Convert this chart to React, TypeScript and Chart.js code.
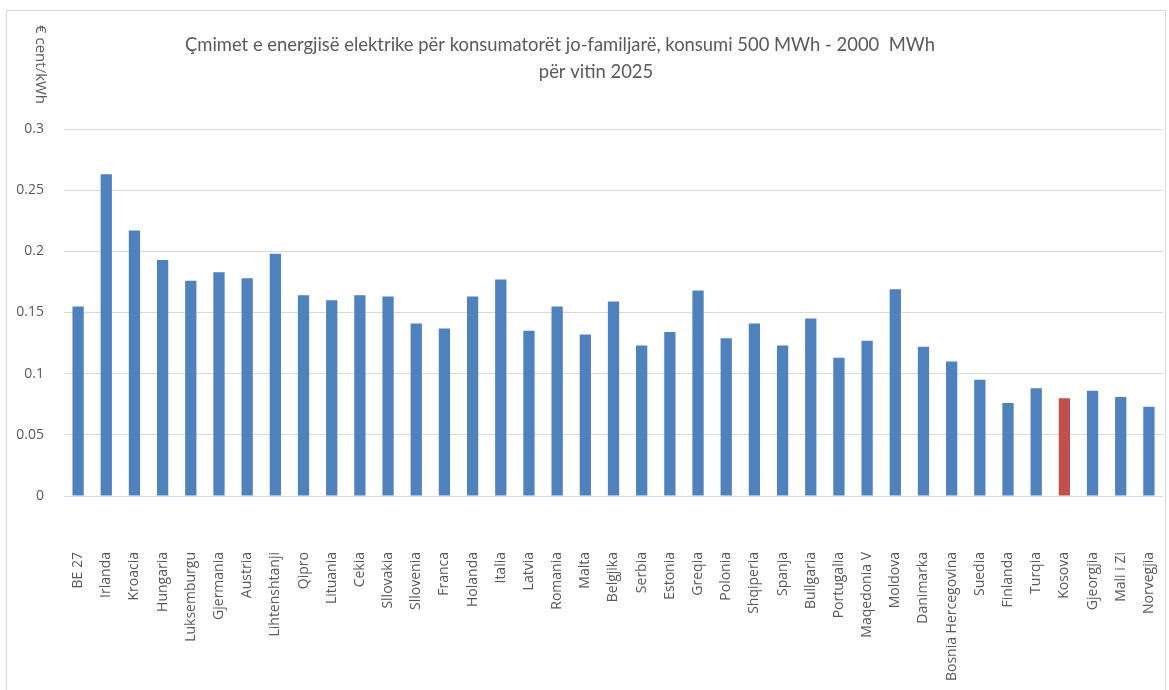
import React, { useEffect, useRef } from "react";
import { Chart, registerables } from "chart.js";

Chart.register(...registerables);

const categories: string[] = [
  "BE 27", "Irlanda", "Kroacia", "Hungaria", "Luksemburgu", "Gjermania", "Austria",
  "Lihtenshtanji", "Qipro", "Lituania", "Cekia", "Sllovakia", "Sllovenia", "Franca",
  "Holanda", "Italia", "Latvia", "Romania", "Malta", "Belgjika", "Serbia", "Estonia",
  "Greqia", "Polonia", "Shqiperia", "Spanja", "Bullgaria", "Portugalia", "Maqedonia V",
  "Moldova", "Danimarka", "Bosnia Hercegovina", "Suedia", "Finlanda", "Turqia", "Kosova",
  "Gjeorgjia", "Mali i Zi", "Norvegjia",
];

const prices: number[] = [
  0.155, 0.263, 0.217, 0.193, 0.176, 0.183, 0.178,
  0.198, 0.164, 0.160, 0.164, 0.163, 0.141, 0.137,
  0.163, 0.177, 0.135, 0.155, 0.132, 0.159, 0.123, 0.134,
  0.168, 0.129, 0.141, 0.123, 0.145, 0.113, 0.127,
  0.169, 0.122, 0.110, 0.095, 0.076, 0.088, 0.080,
  0.086, 0.081, 0.073,
];

const yTicks: number[] = [0, 0.05, 0.1, 0.15, 0.2, 0.25, 0.3];

const titleLines: string[] = [
  "Çmimet e energjisë elektrike për konsumatorët jo-familjarë, konsumi 500 MWh - 2000  MWh",
  "për vitin 2025",
];
const yAxisTitle = "€ cent/kWh";
const highlight = "Kosova";

const BLUE = "#4F81BD";
const RED = "#C0504D";
const TEXT = "#595959";

const textPlugin = {
  id: "customText",
  afterDraw(chart: any) {
    const ctx = chart.ctx;
    ctx.save();
    ctx.fillStyle = TEXT;
    ctx.textBaseline = "middle";
    ctx.textAlign = "center";
    ctx.font = "18.4px Lato, 'Open Sans', sans-serif";
    ctx.fillText(titleLines[0], 560, 45);
    ctx.fillText(titleLines[1], 596, 72);
    ctx.translate(40, 25);
    ctx.rotate(Math.PI / 2);
    ctx.textAlign = "left";
    ctx.font = "15px 'Open Sans', sans-serif";
    ctx.fillText(yAxisTitle, 0, 0);
    ctx.restore();
  },
};

export default function App() {
  const canvasRef = useRef<HTMLCanvasElement | null>(null);

  useEffect(() => {
    if (!canvasRef.current) return;
    const colors = categories.map((c) => (c === highlight ? RED : BLUE));
    const chart = new Chart(canvasRef.current, {
      type: "bar",
      data: {
        labels: categories,
        datasets: [
          {
            data: prices,
            backgroundColor: colors,
            borderWidth: 0,
            barPercentage: 0.4,
            categoryPercentage: 1,
          },
        ],
      },
      options: {
        responsive: false,
        animation: false,
        layout: { padding: { top: 129, right: 6, left: 0, bottom: 0 } },
        plugins: {
          legend: { display: false },
          title: { display: false },
          tooltip: { enabled: false },
        },
        scales: {
          x: {
            grid: { display: false, drawTicks: false },
            border: { display: false },
            ticks: {
              autoSkip: false,
              minRotation: 90,
              maxRotation: 90,
              padding: 56,
              color: TEXT,
              font: { family: "'Open Sans', sans-serif", size: 14 },
            },
            afterFit(scale: any) {
              scale.height = 194;
              scale.paddingLeft = 0;
              scale.paddingRight = 0;
            },
          },
          y: {
            min: 0,
            max: 0.3,
            afterBuildTicks(scale: any) {
              scale.ticks = yTicks.map((v) => ({ value: v }));
            },
            grid: { color: "#D9D9D9", lineWidth: 1, drawTicks: false },
            border: { display: false },
            ticks: {
              padding: 20,
              color: TEXT,
              font: { family: "'Open Sans', sans-serif", size: 14 },
              callback: (v: any) => String(Number(Number(v).toFixed(2))),
            },
            afterFit(scale: any) {
              scale.width = 64;
            },
          },
        },
      },
      plugins: [textPlugin],
    });
    return () => chart.destroy();
  }, []);

  return (
    <div style={{ position: "fixed", left: 0, top: 0, width: 1169, height: 690, background: "#fff", overflow: "hidden" }}>
      <div
        style={{
          position: "absolute",
          left: 6,
          top: 10,
          width: 1158,
          height: 700,
          border: "1px solid #D9D9D9",
        }}
      />
      <canvas ref={canvasRef} width={1169} height={690} style={{ position: "absolute", left: 0, top: 0 }} />
    </div>
  );
}
